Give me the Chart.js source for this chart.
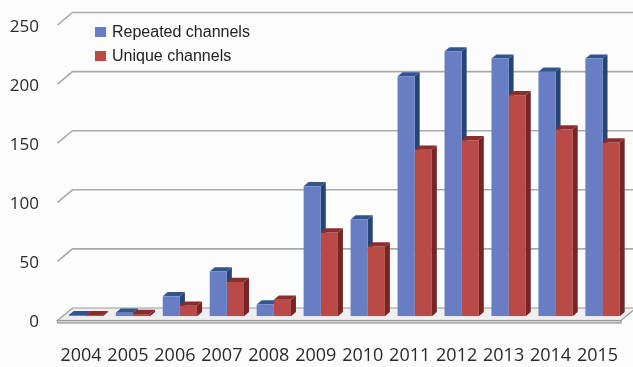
<!DOCTYPE html>
<html>
<head>
<meta charset="utf-8">
<script src="https://cdn.jsdelivr.net/npm/chart.js@4.4.1/dist/chart.umd.min.js"></script>
<style>
  html, body { margin: 0; padding: 0; background: #fcfcfc; }
  #chart-wrap { width: 633px; height: 367px; }
</style>
</head>
<body>
<div id="chart-wrap"><canvas id="channels-chart" width="633" height="367"></canvas></div>
<script>
const years = ["2004", "2005", "2006", "2007", "2008", "2009", "2010", "2011", "2012", "2013", "2014", "2015"];
const repeatedChannels = [1, 3, 17, 38, 10, 110, 82, 203, 224, 218, 207, 218];
const uniqueChannels = [1, 2, 9, 29, 14, 71, 59, 141, 149, 187, 158, 147];
const seriesNames = ["Repeated channels", "Unique channels"];
const yMax = 250;
const yStep = 50;

// front / side / top colours for each series
const frontColors = ["rgb(103, 126, 196)", "rgb(186, 74, 72)"];
const sideColors = ["rgb(38, 68, 116)", "rgb(118, 36, 36)"];
const topColors = ["rgb(52, 84, 140)", "rgb(140, 44, 44)"];

// oblique offsets: bars sit a third of the way into the floor
const BAR_DX = 5;
const BAR_DY = -4.2;
const FRONT_DX = -5;
const FRONT_DY = 4.2;
const BACK_DX = 10;
const BACK_DY = -8.3;

const canvas = document.getElementById("channels-chart");

function drawWalls(chart) {
  const { ctx, chartArea, scales } = chart;
  const y = scales.y;
  ctx.save();

  // grid lines on the back wall with the little slanted lead-in
  ctx.strokeStyle = "#a9a9a9";
  ctx.lineWidth = 1.6;
  for (let v = yStep; v <= yMax; v += yStep) {
    const py = y.getPixelForValue(v);
    ctx.beginPath();
    ctx.moveTo(chartArea.left + FRONT_DX, py + FRONT_DY);
    ctx.lineTo(chartArea.left + BACK_DX, py + BACK_DY);
    ctx.lineTo(chart.width + 5, py + BACK_DY);
    ctx.stroke();
  }

  // floor slab
  const py0 = y.getPixelForValue(0);
  const fl = chartArea.left + FRONT_DX;
  const fr = chartArea.right + FRONT_DX;
  const fy = py0 + FRONT_DY;
  ctx.fillStyle = "#efefef";
  ctx.strokeStyle = "#9a9a9a";
  ctx.lineWidth = 1.2;
  ctx.beginPath();
  ctx.moveTo(fl, fy);
  ctx.lineTo(chartArea.left + BACK_DX, py0 + BACK_DY);
  ctx.lineTo(chartArea.right + BACK_DX, py0 + BACK_DY);
  ctx.lineTo(fr, fy);
  ctx.closePath();
  ctx.fill();
  ctx.stroke();
  ctx.fillStyle = "#d8d8d8";
  ctx.fillRect(fl, fy, fr - fl, 2.5);
  ctx.strokeRect(fl, fy, fr - fl, 2.5);
  ctx.restore();
}

function drawBarDepth(chart, datasetIndex) {
  const { ctx } = chart;
  const meta = chart.getDatasetMeta(datasetIndex);
  ctx.save();
  meta.data.forEach((bar) => {
    const left = bar.x - bar.width / 2;
    const right = bar.x + bar.width / 2;
    const top = bar.y;
    const base = bar.base;

    // right side face
    ctx.fillStyle = sideColors[datasetIndex];
    ctx.beginPath();
    ctx.moveTo(right, top);
    ctx.lineTo(right + BAR_DX, top + BAR_DY);
    ctx.lineTo(right + BAR_DX, base + BAR_DY);
    ctx.lineTo(right, base);
    ctx.closePath();
    ctx.fill();

    // top face
    ctx.fillStyle = topColors[datasetIndex];
    ctx.beginPath();
    ctx.moveTo(left, top);
    ctx.lineTo(left + BAR_DX, top + BAR_DY);
    ctx.lineTo(right + BAR_DX, top + BAR_DY);
    ctx.lineTo(right, top);
    ctx.closePath();
    ctx.fill();
  });
  ctx.restore();
}

function drawLegend(chart) {
  const { ctx } = chart;
  ctx.save();
  ctx.font = "16px 'Liberation Sans', Arial, sans-serif";
  ctx.textBaseline = "middle";
  ctx.textAlign = "left";
  chart.data.datasets.forEach((ds, i) => {
    const rowY = 32 + i * 24;
    ctx.fillStyle = ds.backgroundColor;
    ctx.fillRect(95, rowY - 5, 11, 10);
    ctx.fillStyle = "#222";
    ctx.fillText(ds.label, 112, rowY + 0.5);
  });
  ctx.restore();
}

// fixed axis box sizes, and no extra room for overhanging labels
function fixAxisBox(scale, size) {
  if (scale.isHorizontal()) {
    scale.height = size;
  } else {
    scale.width = size;
  }
  scale.paddingTop = 0;
  scale.paddingBottom = 0;
  scale.paddingLeft = 0;
  scale.paddingRight = 0;
}

const depthPlugin = {
  id: "depthPlugin",
  beforeDatasetsDraw(chart) {
    drawWalls(chart);
    drawBarDepth(chart, 0);
  },
  afterDatasetsDraw(chart) {
    drawBarDepth(chart, 1);
  },
  afterDraw(chart) {
    drawLegend(chart);
  },
};

const channelsChart = new Chart(canvas, {
  type: "bar",
  data: {
    labels: years,
    datasets: [
      {
        label: seriesNames[0],
        data: repeatedChannels,
        backgroundColor: frontColors[0],
        borderWidth: 0,
      },
      {
        label: seriesNames[1],
        data: uniqueChannels,
        backgroundColor: frontColors[1],
        borderWidth: 0,
      },
    ],
  },
  options: {
    responsive: false,
    animation: false,
    events: [],
    layout: {
      padding: { top: 20.8, right: 7, left: 0, bottom: 0 },
    },
    datasets: {
      bar: {
        categoryPercentage: 0.73,
        barPercentage: 1,
      },
    },
    plugins: {
      legend: { display: false },
      tooltip: { enabled: false },
    },
    scales: {
      x: {
        grid: { display: false, drawTicks: false },
        border: { display: false },
        afterFit(scale) {
          fixAxisBox(scale, 50.7);
        },
        ticks: {
          autoSkip: false,
          maxRotation: 0,
          padding: 29,
          labelOffset: -5,
          color: "#2a2a2a",
          font: { family: "'Open Sans', sans-serif", size: 18 },
        },
      },
      y: {
        min: 0,
        max: yMax,
        grid: { display: false, drawTicks: false },
        border: { display: false },
        afterFit(scale) {
          fixAxisBox(scale, 62.5);
        },
        ticks: {
          stepSize: yStep,
          padding: 23.5,
          labelOffset: 6,
          color: "#2a2a2a",
          font: { family: "'Open Sans', sans-serif", size: 17 },
        },
      },
    },
  },
  plugins: [depthPlugin],
});
</script>
</body>
</html>
